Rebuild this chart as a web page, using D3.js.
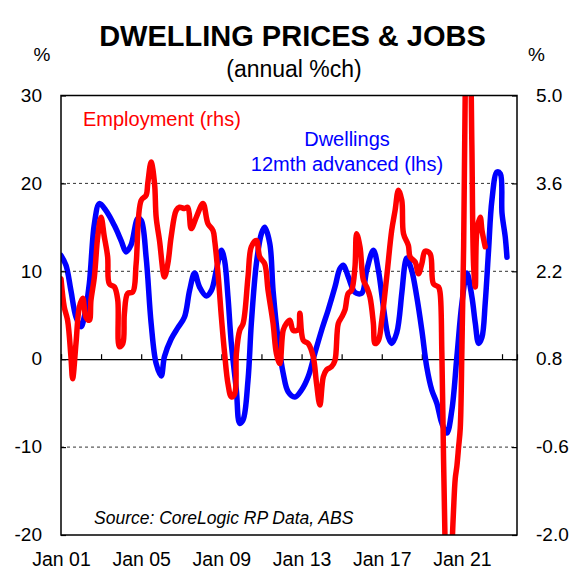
<!DOCTYPE html>
<html>
<head>
<meta charset="utf-8">
<script src="https://cdn.jsdelivr.net/npm/d3@7"></script>
<style>
  html, body { margin: 0; padding: 0; background: #fff; }
  svg { display: block; font-family: "Liberation Sans", Arial, sans-serif; }
</style>
</head>
<body>
<svg id="chart" width="585" height="580"></svg>
<script>
// ---- data ----
const dwellDates = ["2001-01","2001-04","2001-07","2001-10","2002-01","2002-03","2002-06","2002-09","2002-12","2003-04",
  "2003-09","2004-01","2004-04","2004-07","2004-11","2005-01","2005-04","2005-07","2005-10","2006-01",
  "2006-03","2006-07","2006-11","2007-03","2007-06","2007-09","2007-12","2008-04","2008-07","2008-10",
  "2009-01","2009-03","2009-05","2009-07","2009-10","2009-12","2010-02","2010-05","2010-07","2010-10",
  "2011-01","2011-03","2011-06","2011-08","2011-11","2012-02","2012-05","2012-09","2013-01","2013-05",
  "2013-09","2014-01","2014-05","2014-09","2014-12","2015-02","2015-05","2015-09","2016-01","2016-04",
  "2016-08","2016-11","2017-02","2017-05","2017-07","2017-10","2018-01","2018-03","2018-04","2018-07",
  "2018-10","2019-01","2019-04","2019-07","2019-10","2020-01","2020-04","2020-07","2020-10","2021-01",
  "2021-04","2021-07","2021-09","2021-11","2022-01","2022-03","2022-05","2022-07","2022-10","2022-12",
  "2023-01","2023-03","2023-04"];
const dwellValues = [11.8,10.7,7.8,4.8,3.7,4.8,8.6,15.4,17.7,16.9,
  15.2,13.5,12.2,13.0,16.0,15.8,11.6,4.1,-0.5,-1.9,
  0.3,2.3,3.6,4.8,7.8,9.8,8.2,7.2,7.8,10.1,
  12.4,11.2,7.1,1.8,-3.5,-7.3,-6.9,-2.4,4.1,10.9,
  14.3,15.0,13.2,7.8,2.2,-1.6,-3.7,-4.3,-3.5,-2.0,
  0.7,3.3,5.6,8.2,10.3,10.7,9.4,7.6,7.5,10.1,
  12.4,10.1,5.9,2.5,1.8,3.0,7.5,10.9,11.5,10.1,
  7.1,3.3,-0.9,-3.5,-5.0,-7.3,-8.4,-5.8,0.3,6.4,
  9.8,7.1,4.1,1.8,2.5,6.4,12.4,18.1,21.3,21.1,
  16.6,13.9,11.6];

const empDates = ["2001-01","2001-03","2001-05","2001-07","2001-08","2001-10","2001-12","2002-02","2002-04","2002-06",
  "2002-07","2002-09","2002-11","2003-01","2003-03","2003-05","2003-06","2003-09","2003-11","2003-12",
  "2004-02","2004-03","2004-05","2004-08","2004-10","2005-01","2005-04","2005-05","2005-07","2005-09",
  "2005-10","2005-12","2006-03","2006-05","2006-07","2006-10","2006-12","2007-03","2007-05","2007-07",
  "2007-10","2008-02","2008-05","2008-08","2008-09","2008-11","2009-01","2009-03","2009-05","2009-07",
  "2009-09","2009-10","2009-12","2010-02","2010-05","2010-07","2010-10","2010-12","2011-03","2011-05",
  "2011-08","2011-10","2011-12","2012-02","2012-04","2012-06","2012-08","2012-11","2012-12","2013-02",
  "2013-05","2013-08","2013-10","2013-12","2014-02","2014-04","2014-07","2014-09","2014-11","2015-01",
  "2015-03","2015-05","2015-07","2015-09","2015-10","2015-12","2016-02","2016-04","2016-06","2016-08",
  "2016-09","2016-11","2017-01","2017-04","2017-07","2017-09","2017-11","2018-01","2018-02","2018-05",
  "2018-06","2018-09","2018-11","2019-01","2019-03","2019-06","2019-08","2019-11","2019-12","2020-01",
  "2020-02","2020-03","2020-04","2020-05","2020-06","2020-07","2020-08","2020-09","2020-10","2020-11",
  "2020-12","2021-01","2021-02","2021-03","2021-04","2021-05","2021-06","2021-07","2021-08","2021-09",
  "2021-10","2021-12","2022-01","2022-03"];
const empValues = [2.08,1.63,1.42,0.84,0.49,1.05,1.63,1.77,1.47,1.42,
  1.74,2.11,2.75,3.06,2.75,2.43,2.0,1.95,1.74,1.0,
  1.05,1.53,1.85,1.87,2.32,3.33,3.41,3.6,3.94,3.6,
  3.06,2.69,2.11,2.32,2.75,3.17,3.22,3.2,3.22,2.88,
  3.06,3.28,2.96,2.85,2.69,2.16,1.47,0.89,0.41,0.2,
  0.25,0.89,1.26,1.37,2.11,2.59,2.69,2.43,2.32,1.9,
  1.37,0.89,0.73,1.26,1.37,1.42,1.26,1.27,1.53,1.1,
  1.05,0.84,0.41,0.07,0.52,0.63,0.68,0.78,1.37,1.47,
  1.58,1.85,1.9,2.27,2.8,2.59,2.06,1.95,1.79,1.37,
  1.05,1.1,1.42,2.11,2.85,3.17,3.49,3.33,2.8,2.61,
  2.43,2.35,2.16,2.32,2.52,2.48,2.0,1.95,1.85,0.9,
  -0.8,-2.2,-4.0,-4.4,-3.6,-2.3,-1.6,-1.1,-0.9,-0.6,
  -0.3,1.0,2.6,5.0,6.5,6.2,5.8,4.2,2.3,1.95,
  2.85,3.06,2.85,2.59];

const leftTicks = [30, 20, 10, 0, -10, -20];
const rightTicks = [5.0, 3.6, 2.2, 0.8, -0.6, -2.0];
const xLabelYears = ["2001","2005","2009","2013","2017","2021"];
const xMinorYears = ["2001","2003","2005","2007","2009","2011","2013","2015","2017","2019","2021","2023"];
const gridValues = [20, 10, -10];

// ---- layout ----
const L = 61, R = 517, T = 95.5, B = 535;
const parse = d3.timeParse("%Y-%m");
const parseY = d3.timeParse("%Y");
const fmtX = d3.timeFormat("Jan %y");

const x = d3.scaleTime().domain([new Date(2001,0,1), new Date(2023,9,1)]).range([L, R]);
const yL = d3.scaleLinear().domain([-20, 30]).range([B, T]);
const yR = d3.scaleLinear().domain([-2, 5]).range([B, T]);

const svg = d3.select("#chart");
svg.append("rect").attr("width",585).attr("height",580).attr("fill","#fff");

svg.append("defs").append("clipPath").attr("id","plotclip")
  .append("rect").attr("x",L).attr("y",T).attr("width",R-L).attr("height",B-T);

// gridlines
svg.append("g").selectAll("line").data(gridValues).join("line")
  .attr("x1",L).attr("x2",R).attr("y1",d=>yL(d)).attr("y2",d=>yL(d))
  .attr("stroke","#333").attr("stroke-width",1).attr("stroke-dasharray","3,3");

// zero line with upward minor ticks
const zeroAxis = d3.axisBottom(x).tickValues(xMinorYears.map(parseY)).tickSize(-5).tickFormat("");
const zg = svg.append("g").attr("transform",`translate(0,${yL(0)})`).call(zeroAxis);
zg.select(".domain").attr("stroke","#000").attr("stroke-width",1.2);
zg.selectAll(".tick line").attr("stroke","#000").attr("stroke-width",1.2);

// lines
const dwell = dwellDates.map((d,i)=>({date:parse(d), v:dwellValues[i]}));
const emp = empDates.map((d,i)=>({date:parse(d), v:empValues[i]}));
const plot = svg.append("g").attr("clip-path","url(#plotclip)");
plot.append("path").datum(dwell)
  .attr("d", d3.line().x(d=>x(d.date)).y(d=>yL(d.v)).curve(d3.curveCatmullRom.alpha(0.5)))
  .attr("fill","none").attr("stroke","#0000ff").attr("stroke-width",5.5)
  .attr("stroke-linejoin","round").attr("stroke-linecap","round");
plot.append("path").datum(emp)
  .attr("d", d3.line().x(d=>x(d.date)).y(d=>yR(d.v)).curve(d3.curveCatmullRom.alpha(0.5)))
  .attr("fill","none").attr("stroke","#ff0000").attr("stroke-width",5.5)
  .attr("stroke-linejoin","round").attr("stroke-linecap","round");

// frame
svg.append("rect").attr("x",L).attr("y",T).attr("width",R-L).attr("height",B-T)
  .attr("fill","none").attr("stroke","#000").attr("stroke-width",1.5);

// left axis
const axL = d3.axisLeft(yL).tickValues(leftTicks).tickSize(-5).tickPadding(19)
  .tickFormat(d => String(d));
const gL = svg.append("g").attr("transform",`translate(${L},0)`).call(axL);
gL.select(".domain").remove();
gL.selectAll(".tick line").attr("stroke","#000").attr("stroke-width",1.2);
gL.selectAll(".tick text").attr("font-size",19).attr("fill","#000")
  .attr("font-family","Liberation Sans, Arial, sans-serif").attr("dy","0.3em");

// right axis
const axR = d3.axisRight(yR).tickValues(rightTicks).tickSize(-5).tickPadding(19)
  .tickFormat(d => d3.format(".1f")(d).replace("\u2212","-"));
const gR = svg.append("g").attr("transform",`translate(${R},0)`).call(axR);
gR.select(".domain").remove();
gR.selectAll(".tick line").attr("stroke","#000").attr("stroke-width",1.2);
gR.selectAll(".tick text").attr("font-size",19).attr("fill","#000")
  .attr("font-family","Liberation Sans, Arial, sans-serif").attr("dy","0.3em");

// bottom labels
const axB = d3.axisBottom(x).tickValues(xLabelYears.map(parseY)).tickSize(0).tickFormat(fmtX);
const gB = svg.append("g").attr("transform",`translate(0,${B})`).call(axB);
gB.select(".domain").remove();
gB.selectAll(".tick text").attr("font-size",19.5).attr("fill","#000")
  .attr("font-family","Liberation Sans, Arial, sans-serif").attr("y",31).attr("dy",0);

// titles
svg.append("text").attr("x",292.5).attr("y",46).attr("text-anchor","middle")
  .attr("font-size",29).attr("font-weight","bold").text("DWELLING PRICES & JOBS");
svg.append("text").attr("x",294).attr("y",77).attr("text-anchor","middle")
  .attr("font-size",23).text("(annual %ch)");
svg.append("text").attr("x",42).attr("y",61).attr("text-anchor","middle")
  .attr("font-size",19).text("%");
svg.append("text").attr("x",536.5).attr("y",61).attr("text-anchor","middle")
  .attr("font-size",19).text("%");

// annotations
svg.append("text").attr("x",83).attr("y",126).attr("font-size",20)
  .attr("fill","#ff0000").text("Employment (rhs)");
svg.append("text").attr("x",347).attr("y",146).attr("text-anchor","middle")
  .attr("font-size",20).attr("fill","#0000ff").text("Dwellings");
svg.append("text").attr("x",347).attr("y",171).attr("text-anchor","middle")
  .attr("font-size",20).attr("fill","#0000ff").text("12mth advanced (lhs)");
svg.append("text").attr("x",94).attr("y",524).attr("font-size",17.5)
  .attr("font-style","italic").attr("fill","#000").text("Source: CoreLogic RP Data, ABS");
</script>
</body>
</html>
